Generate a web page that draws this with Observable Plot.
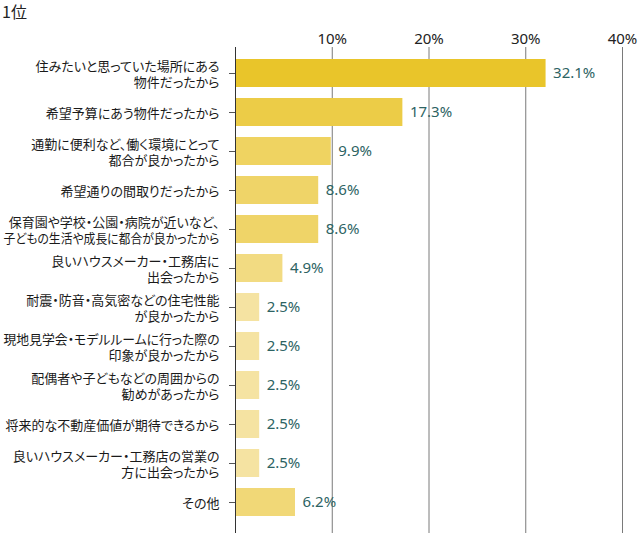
<!DOCTYPE html>
<html>
<head>
<meta charset="utf-8">
<script src="https://cdn.jsdelivr.net/npm/d3@7"></script>
<script src="https://cdn.jsdelivr.net/npm/@observablehq/plot@0.6"></script>
<style>
  body { margin: 0; background: #fff; }
  #title { font-family: "Noto Sans CJK JP", "Noto Sans", sans-serif; font-size: 16px; line-height: 22px; height: 22px; padding-left: 2px; color: #222; }
  .yax text { font-feature-settings: "palt"; }
</style>
</head>
<body>
<div id="title">1位</div>
<div id="chart"></div>
<script>
const categories = [
  "住みたいと思っていた場所にある\n物件だったから",
  "希望予算にあう物件だったから",
  "通勤に便利など、働く環境にとって\n都合が良かったから",
  "希望通りの間取りだったから",
  "保育園や学校・公園・病院が近いなど、\n子どもの生活や成長に都合が良かったから",
  "良いハウスメーカー・工務店に\n出会ったから",
  "耐震・防音・高気密などの住宅性能\nが良かったから",
  "現地見学会・モデルルームに行った際の\n印象が良かったから",
  "配偶者や子どもなどの周囲からの\n勧めがあったから",
  "将来的な不動産価値が期待できるから",
  "良いハウスメーカー・工務店の営業の\n方に出会ったから",
  "その他"
];
const values = [32.1, 17.3, 9.9, 8.6, 8.6, 4.9, 2.5, 2.5, 2.5, 2.5, 2.5, 6.2];
const xTicks = [10, 20, 30, 40];

const data = categories.map((c, i) => ({category: c, value: values[i]}));

const chart = Plot.plot({
  width: 641,
  height: 511,
  marginLeft: 235,
  marginRight: 19,
  marginTop: 25,
  marginBottom: 0,
  style: {fontFamily: "'Noto Sans', 'Noto Sans CJK JP', sans-serif", background: "#fff"},
  x: {domain: [0, 40]},
  y: {domain: categories, range: [25, 506], padding: 0.28},
  color: {type: "log", domain: [2.5, 32.1], range: ["#F5E3A2", "#E9C52A"]},
  marks: [
    Plot.ruleX(xTicks, {stroke: "#7a7a7a", strokeWidth: 1, strokeOpacity: 1}),
    Plot.barX(data, {x: "value", y: "category", fill: "value"}),
    Plot.ruleX([0], {stroke: "#333", strokeWidth: 1}),
    Plot.text(data, {x: "value", y: "category", text: d => d.value.toFixed(1) + "%", dx: 7, textAnchor: "start", fill: "#2d6363", fontSize: 15}),
    Plot.axisX({anchor: "top", ticks: xTicks, tickSize: 0, tickPadding: 4, tickFormat: d => d + "%", fontSize: 15, fill: "#222", label: null}),
    Plot.axisY({anchor: "left", tickSize: 6, tickPadding: 10, fontSize: 13, lineHeight: 1.25, fill: "#1a1a1a", stroke: "#555", label: null, fontFamily: "'Noto Sans CJK JP', sans-serif", textOverflow: null, className: "yax"})
  ]
});
document.getElementById("chart").appendChild(chart);

// keep long label lines inside the left margin (reference font is narrower)
const maxW = 216;
chart.querySelectorAll(".yax text tspan, .yax text").forEach(el => {
  if (el.tagName === "text" && el.querySelector("tspan")) return;
  const w = el.getComputedTextLength();
  if (w > maxW) {
    el.setAttribute("textLength", maxW);
    el.setAttribute("lengthAdjust", "spacingAndGlyphs");
  }
});
</script>
</body>
</html>
